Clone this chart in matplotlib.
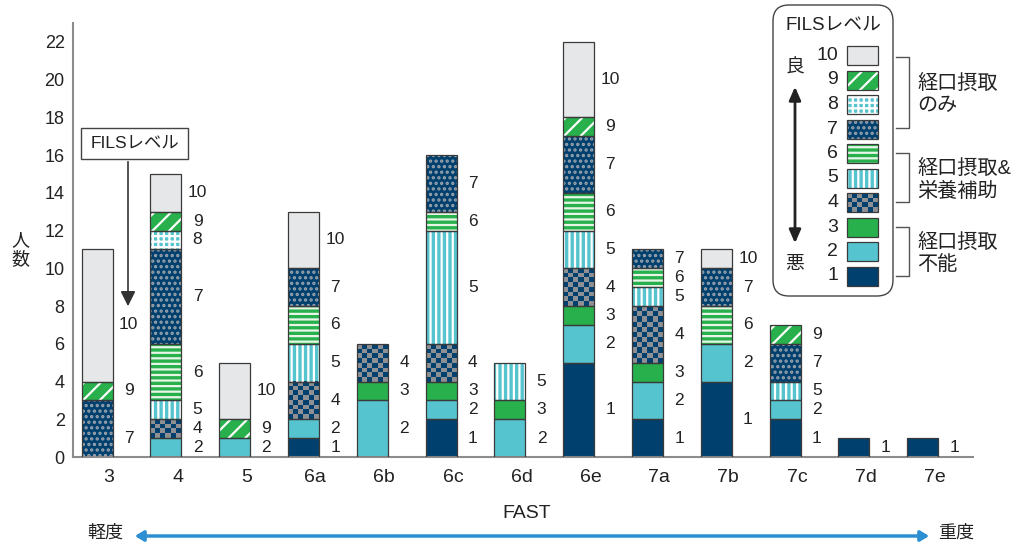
import matplotlib
matplotlib.use('Agg')
import matplotlib.pyplot as plt
import numpy as np
from matplotlib.patches import Rectangle, FancyBboxPatch, FancyArrowPatch

plt.rcParams['font.family'] = ['Liberation Sans', 'Noto Sans CJK JP', 'DejaVu Sans']
plt.rcParams['hatch.linewidth'] = 1.6

# ---------------- data ----------------
categories = ['3', '4', '5', '6a', '6b', '6c', '6d', '6e', '7a', '7b', '7c', '7d', '7e']
level1  = [0, 0, 0, 1, 0, 2, 0, 5, 2, 4, 2, 1, 1]
level2  = [0, 1, 1, 1, 3, 1, 2, 2, 2, 2, 1, 0, 0]
level3  = [0, 0, 0, 0, 1, 1, 1, 1, 1, 0, 0, 0, 0]
level4  = [0, 1, 0, 2, 2, 2, 0, 2, 3, 0, 0, 0, 0]
level5  = [0, 1, 0, 2, 0, 6, 2, 2, 1, 0, 1, 0, 0]
level6  = [0, 3, 0, 2, 0, 1, 0, 2, 1, 2, 0, 0, 0]
level7  = [3, 5, 0, 2, 0, 3, 0, 3, 1, 2, 2, 0, 0]
level8  = [0, 1, 0, 0, 0, 0, 0, 0, 0, 0, 0, 0, 0]
level9  = [1, 1, 1, 0, 0, 0, 0, 1, 0, 0, 1, 0, 0]
level10 = [7, 2, 3, 3, 0, 0, 0, 4, 0, 1, 0, 0, 0]
levels = [level1, level2, level3, level4, level5, level6, level7, level8, level9, level10]
level_names = ['1', '2', '3', '4', '5', '6', '7', '8', '9', '10']
yticks = [0, 2, 4, 6, 8, 10, 12, 14, 16, 18, 20, 22]
group_labels = ['経口摂取\nのみ', '経口摂取&\n栄養補助', '経口摂取\n不能']

# ---------------- styles ----------------
NAVY = '#00406e'
CYAN = '#55c4ce'
GREEN = '#27b04b'
GRAY4 = '#8e9093'
LGRAY = '#e6e7e9'
EDGE = '#3a3a3a'
STYLE = {
    1: (NAVY, None, None),
    2: (CYAN, None, None),
    3: (GREEN, None, None),
    4: (GRAY4, 'checker', None),
    5: (CYAN, '|||', 'white'),
    6: (GREEN, '---', '#e8f6e8'),
    7: (NAVY, '...', '#9aa3ad'),
    8: (CYAN, '+++', 'white'),
    9: (GREEN, '//', 'white'),
    10: (LGRAY, None, None),
}


def checker_img(nr, nc):
    a = np.indices((nr, nc)).sum(axis=0) % 2
    c1 = np.array(matplotlib.colors.to_rgb(NAVY))
    c2 = np.array(matplotlib.colors.to_rgb(GRAY4))
    img = np.where(a[..., None] == 1, c1, c2)
    return img


def texture(ax, x0, x1, y0, y1, px_w, px_h, z):
    nc = max(1, int(round(px_w / 5.0)))
    nr = max(1, int(round(px_h / 5.0)))
    ax.imshow(checker_img(nr, nc), extent=(x0, x1, y0, y1), aspect='auto',
              interpolation='nearest', zorder=z)


W, H = 1027, 542
fig = plt.figure(figsize=(W / 100, H / 100), dpi=100)
AX_L, AX_R, AX_T, AX_B = 73, 973, 23, 457
ax = fig.add_axes([AX_L / W, (H - AX_B) / H, (AX_R - AX_L) / W, (AX_B - AX_T) / H])

n = len(categories)
x = np.arange(n)
bw = 0.45
XMIN, XMAX = -0.35, 12.73
YMAX = 23.0
px_per_x = (AX_R - AX_L) / (XMAX - XMIN)
px_per_y = (AX_B - AX_T) / YMAX

label_y_override = {(0, 10): 7.0, (0, 7): 1.0}

bottom = np.zeros(n)
for li, vals in enumerate(levels):
    lev = li + 1
    vals = np.array(vals, dtype=float)
    face, hatch, hcol = STYLE[lev]
    mask = vals > 0
    bars = ax.bar(x[mask], vals[mask], bw, bottom=bottom[mask], color=face,
                  linewidth=0, zorder=2)
    if hatch == 'checker':
        for b in bars:
            texture(ax, b.get_x(), b.get_x() + b.get_width(), b.get_y(),
                    b.get_y() + b.get_height(), b.get_width() * px_per_x,
                    b.get_height() * px_per_y, 2.5)
    elif hatch:
        ax.bar(x[mask], vals[mask], bw, bottom=bottom[mask], facecolor='none',
               edgecolor=hcol, hatch=hatch, linewidth=0, zorder=3)
    ax.bar(x[mask], vals[mask], bw, bottom=bottom[mask], facecolor='none',
           edgecolor=EDGE, linewidth=0.9, zorder=4)
    for i in np.where(mask)[0]:
        yl = label_y_override.get((i, lev), bottom[i] + vals[i] / 2)
        ax.text(x[i] + 0.46, yl, level_names[li], ha='center', va='center',
                fontsize=12.5, color='#222222')
    bottom = bottom + vals

ax.set_xlim(XMIN, XMAX)
ax.set_ylim(0, YMAX)
ax.set_yticks(yticks)
ax.set_yticklabels([str(v) for v in yticks], fontsize=13, color='#222222')
ax.set_xticks(x + 0.17)
ax.set_xticklabels(categories, fontsize=14, color='#222222')
ax.tick_params(axis='both', length=0)
ax.tick_params(axis='y', pad=6)
ax.tick_params(axis='x', pad=9)
for s in ['top', 'right']:
    ax.spines[s].set_visible(False)
for s in ['left', 'bottom']:
    ax.spines[s].set_color('#8c8c8c')
    ax.spines[s].set_linewidth(1.5)

# ---------------- overlay (pixel coordinates) ----------------
ov = fig.add_axes([0, 0, 1, 1], zorder=5)
ov.set_xlim(0, W)
ov.set_ylim(H, 0)
ov.axis('off')
ov.patch.set_alpha(0)

# y label
ov.text(20, 250, '人\n数', ha='center', va='center', fontsize=13, color='#222222',
        linespacing=1.1)
# FAST
ov.text(527, 514, 'FAST', ha='center', va='center', fontsize=14, color='#222222')
# bottom severity arrow
ov.add_patch(FancyArrowPatch((132, 536), (932, 536), arrowstyle='<|-|>,head_length=5,head_width=3',
                             color='#2b8fd1', lw=2.5, mutation_scale=1))
ov.text(105, 533, '軽度', ha='center', va='center', fontsize=13, color='#222222')
ov.text(956, 533, '重度', ha='center', va='center', fontsize=13, color='#222222')

# FILS callout
ov.add_patch(Rectangle((81, 128), 107, 31, facecolor='white', edgecolor='#444444', lw=1))
ov.text(134.5, 143.5, 'FILSレベル', ha='center', va='center', fontsize=12.5, color='#222222')
ov.add_patch(FancyArrowPatch((128, 159), (128, 309), arrowstyle='-|>,head_length=9,head_width=4.5',
                             color='#333333', lw=1.2, mutation_scale=1))

# legend box
ov.add_patch(FancyBboxPatch((773, 5), 120, 291, boxstyle='round,pad=0,rounding_size=16',
                            facecolor='white', edgecolor='#444444', lw=1))
ov.text(833, 25, 'FILSレベル', ha='center', va='center', fontsize=13.5, color='#222222')
sw_x, sw_w, sw_h = 847, 31, 19
for k in range(10):
    lev = 10 - k
    top = 46 + k * 24.5
    face, hatch, hcol = STYLE[lev]
    ov.add_patch(Rectangle((sw_x, top), sw_w, sw_h, facecolor=face, lw=0, zorder=2))
    if hatch == 'checker':
        texture(ov, sw_x, sw_x + sw_w, top + sw_h, top, sw_w, sw_h, 2.5)
    elif hatch:
        ov.add_patch(Rectangle((sw_x, top), sw_w, sw_h, facecolor='none', edgecolor=hcol,
                               hatch=hatch, lw=0, zorder=3))
    ov.add_patch(Rectangle((sw_x, top), sw_w, sw_h, facecolor='none', edgecolor=EDGE,
                           lw=0.9, zorder=4))
    ov.text(838, top + sw_h / 2, level_names[lev - 1], ha='right', va='center',
            fontsize=14, color='#222222')
ov.set_xlim(0, W)
ov.set_ylim(H, 0)

ov.text(795, 68, '良', ha='center', va='center', fontsize=13.5, color='#222222')
ov.text(795, 265, '悪', ha='center', va='center', fontsize=13.5, color='#222222')
ov.add_patch(FancyArrowPatch((795, 84), (795, 246), arrowstyle='<|-|>,head_length=8,head_width=3.5',
                             color='#222222', lw=2, mutation_scale=1))

# brackets
groups = [(57, 128), (153, 202), (227, 276)]
for (ya, yb), lab in zip(groups, group_labels):
    ov.plot([896, 909, 909, 896], [ya, ya, yb, yb], color='#555555', lw=1)
    ov.text(917, (ya + yb) / 2 + 2, lab, ha='left', va='center', fontsize=14.5,
            color='#222222', linespacing=1.25)

fig.savefig('out.png', dpi=100)
